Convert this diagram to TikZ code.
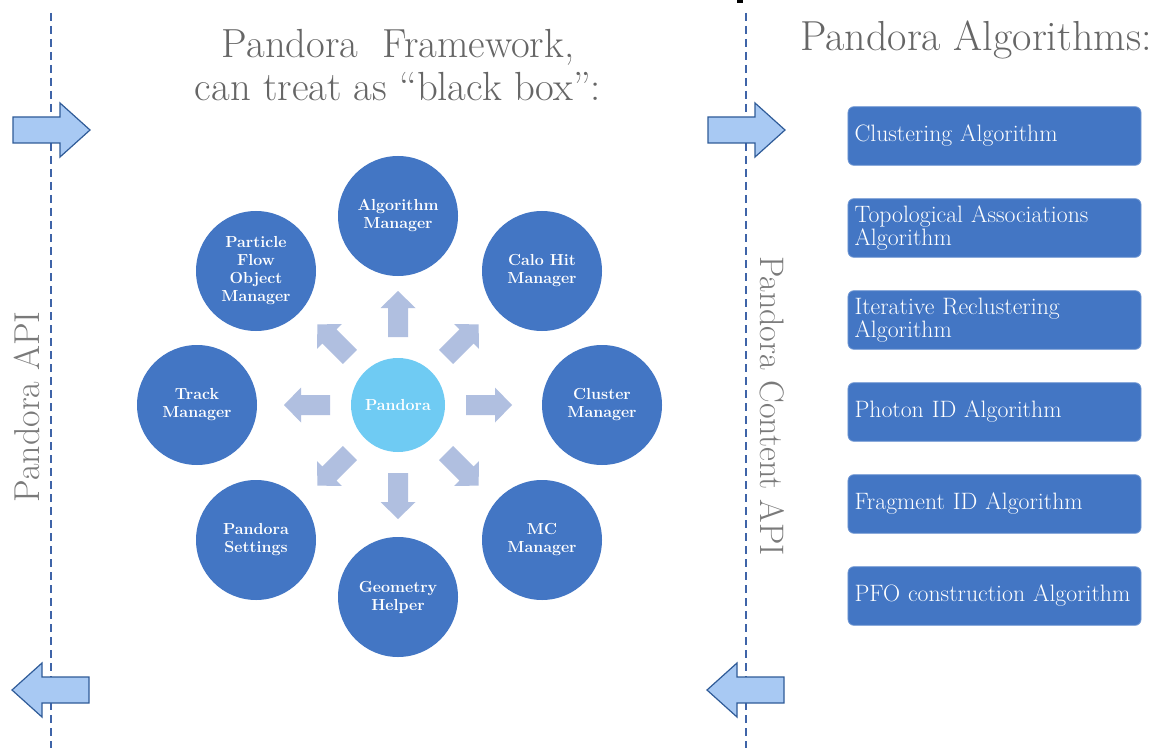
\documentclass[tikz,border=0pt]{standalone}
\usetikzlibrary{positioning}
\definecolor{mgrblue}{HTML}{4376C4}
\definecolor{coreblue}{HTML}{6FCBF3}
\definecolor{spokeblue}{HTML}{B0BFE0}
\definecolor{apifill}{HTML}{A8C9F3}
\definecolor{apiedge}{HTML}{2F5B98}
\definecolor{dashblue}{HTML}{3F64A8}
\definecolor{titlegray}{HTML}{666666}
\definecolor{labelgray}{HTML}{7A7A7A}
\tikzset{
  apiarrow/.pic={
    \filldraw[fill=apifill, draw=apiedge, line width=0.9pt, line join=miter]
      (0,-13) -- (47,-13) -- (47,-27) -- (77,0) -- (47,27) -- (47,13) -- (0,13) -- cycle;
  }
}
\begin{document}
\begin{tikzpicture}[x=0.75pt, y=-0.75pt, node distance=24.4pt,
    mgr/.style={circle, fill=mgrblue, minimum size=90pt, inner sep=0pt, text=white,
      align=center, font=\fontsize{12}{13.5}\selectfont\bfseries},
    core/.style={circle, fill=coreblue, minimum size=70.5pt, inner sep=0pt, text=white,
      font=\fontsize{12}{13.5}\selectfont\bfseries},
    spoke/.style={fill=spokeblue},
    algbox/.style={rectangle, rounded corners=4.5pt, fill=mgrblue, draw=mgrblue!75!white,
      line width=0.6pt, text=white, text width=210pt, inner xsep=4.9pt, inner ysep=0pt,
      minimum height=44pt, align=left, font=\fontsize{17.8}{17.5}\selectfont},
    title/.style={text=titlegray, align=center, font=\fontsize{30.5}{32}\selectfont},
    apilabel/.style={text=labelgray},
    apiline/.style={draw=dashblue, line width=1.1pt, dash pattern=on 6pt off 3.75pt}]
  \useasboundingbox[fill=white] (0,0) rectangle (1155,752);

  % API boundaries
  \coordinate (apitop) at (51,13);
  \coordinate (apibot) at (51,748);
  \coordinate (contop) at (746,13);
  \coordinate (conbot) at (746,748);
  \draw[apiline] (apitop) -- (apibot);
  \draw[apiline] (contop) -- (conbot);
  \fill (737,0) rectangle (743,3);

  \pic at (13,130) {apiarrow};
  \pic[rotate=180] at (89,690) {apiarrow};
  \pic at (708,130) {apiarrow};
  \pic[rotate=180] at (784,690) {apiarrow};

  \node[apilabel, rotate=90, font=\fontsize{27}{28}\selectfont] (apiname) at (27,407) {Pandora API};
  \node[apilabel, rotate=-90, font=\fontsize{25.5}{27}\selectfont] (conname) at (772,406) {Pandora Content API};

  % titles
  \node[title] (fwtitle) at (398,65) {Pandora\ \ Framework,\\can treat as “black box”:};
  \node[title, font=\fontsize{31.5}{32}\selectfont] (algtitle) at (976,40) {Pandora Algorithms:};

  % framework
  \node[core] (pandora) at (398,405) {Pandora};
  \node[mgr] (algmgr) at (398,216) {Algorithm\\Manager};
  \node[mgr] (calomgr) at (542,271) {Calo Hit\\Manager};
  \node[mgr] (clustmgr) at (602,405) {Cluster\\Manager};
  \node[mgr] (mcmgr) at (542,540) {MC\\Manager};
  \node[mgr] (geomhelp) at (398,597) {Geometry\\Helper};
  \node[mgr] (settings) at (256,540) {Pandora\\Settings};
  \node[mgr] (trackmgr) at (197,405) {Track\\Manager};
  \node[mgr] (pfomgr) at (256,271) {Particle\\Flow\\Object\\Manager};
  \foreach \a in {0,45,...,315}
    \fill[spoke, shift={(pandora.center)}, rotate=\a]
      (68,-10) -- (97,-10) -- (97,-17.5) -- (114,0) -- (97,17.5) -- (97,10) -- (68,10) -- cycle;

  % algorithms
  \node[algbox] (clustalg) at (994.5,136) {Clustering Algorithm};
  \node[algbox, below=of clustalg] (topoalg) {Topological Associations\\Algorithm};
  \node[algbox, below=of topoalg] (reclalg) {Iterative Reclustering\\Algorithm};
  \node[algbox, below=of reclalg] (photalg) {Photon ID Algorithm};
  \node[algbox, below=of photalg] (fragalg) {Fragment ID Algorithm};
  \node[algbox, below=of fragalg] (pfoalg) {PFO construction Algorithm};
\end{tikzpicture}
\end{document}
